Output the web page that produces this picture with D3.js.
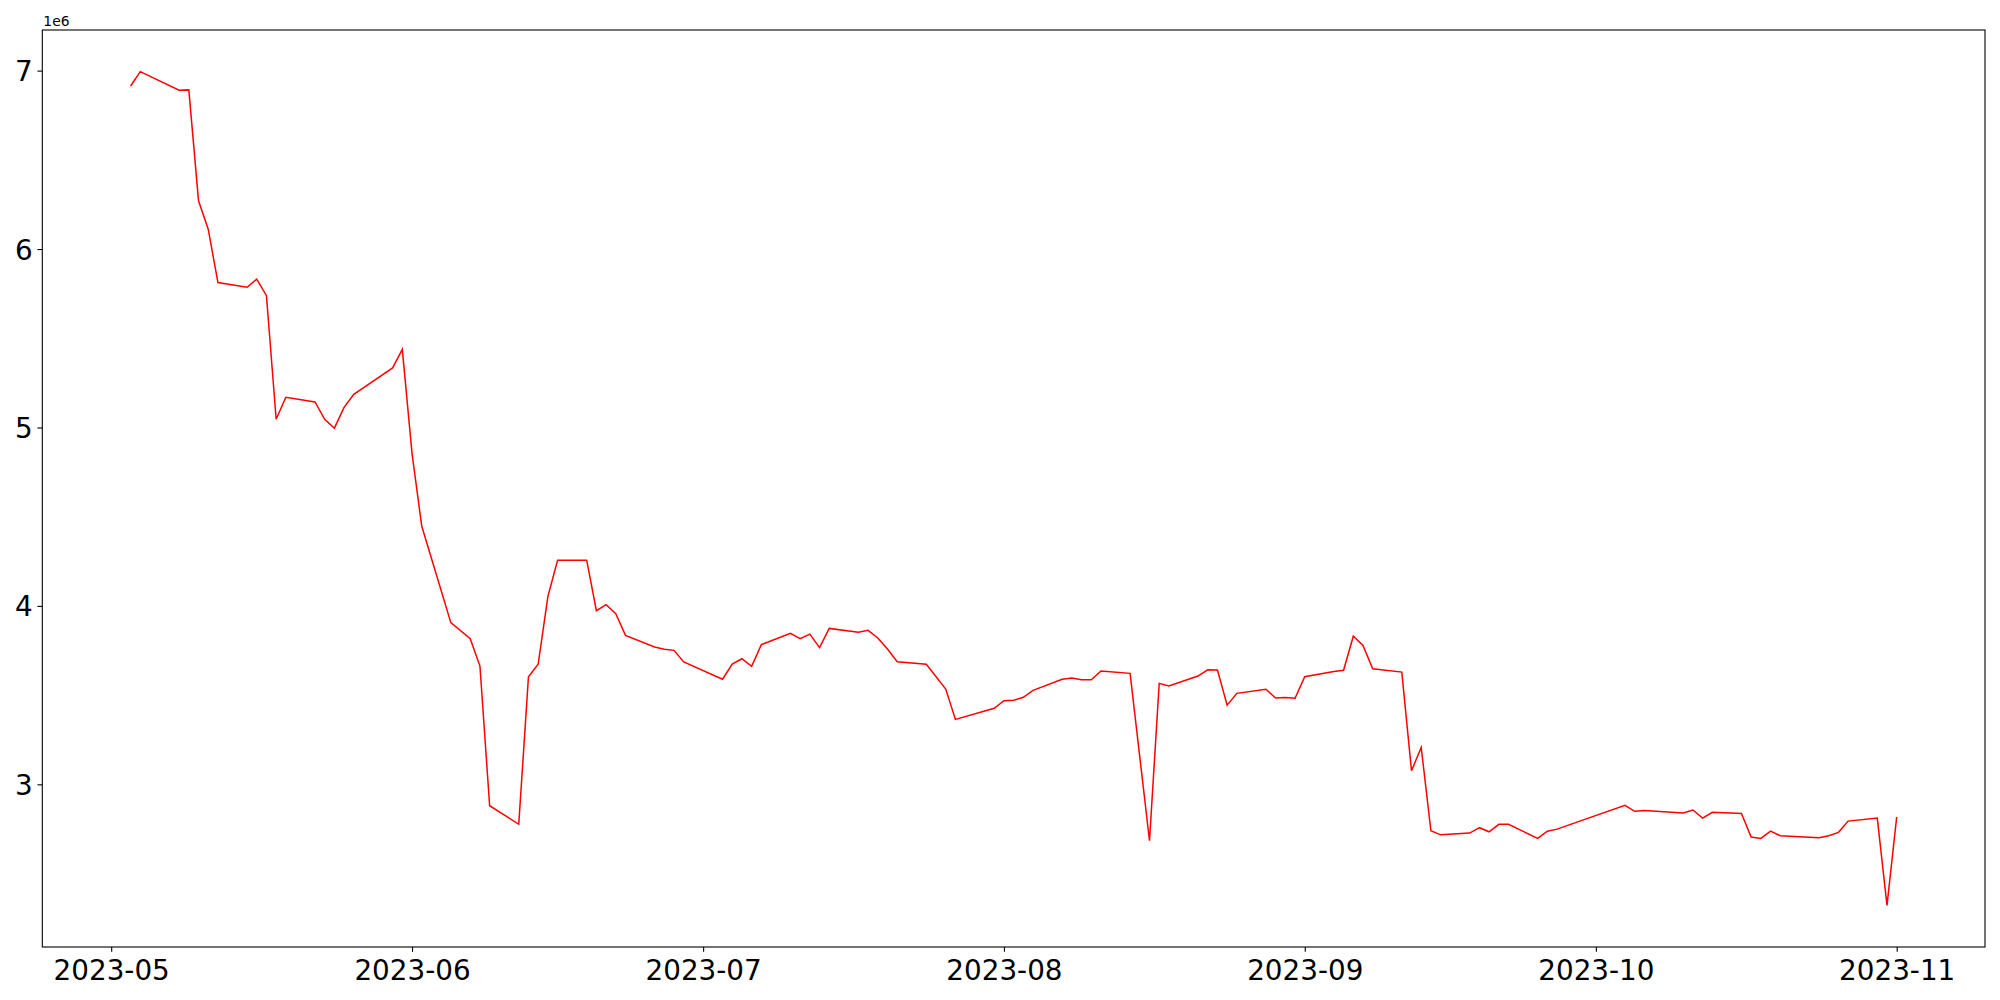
<!DOCTYPE html>
<html>
<head>
<meta charset="utf-8">
<script src="https://cdn.jsdelivr.net/npm/d3@7"></script>
<style>
  html, body { margin: 0; padding: 0; background: #fff; }
  svg { display: block; font-family: "DejaVu Sans", sans-serif; }
</style>
</head>
<body>
<svg id="chart" width="2000" height="1000"></svg>
<script>
// ---- data ----
const dates = [
  "2023-05-03","2023-05-04","2023-05-08","2023-05-09","2023-05-10","2023-05-11","2023-05-12",
  "2023-05-15","2023-05-16","2023-05-17","2023-05-18","2023-05-19",
  "2023-05-22","2023-05-23","2023-05-24","2023-05-25","2023-05-26",
  "2023-05-30","2023-05-31","2023-06-01","2023-06-02",
  "2023-06-05","2023-06-07","2023-06-08","2023-06-09",
  "2023-06-12","2023-06-13","2023-06-14","2023-06-15","2023-06-16",
  "2023-06-19","2023-06-20","2023-06-21","2023-06-22","2023-06-23",
  "2023-06-26","2023-06-27","2023-06-28","2023-06-29",
  "2023-07-03","2023-07-04","2023-07-05","2023-07-06","2023-07-07",
  "2023-07-10","2023-07-11","2023-07-12","2023-07-13","2023-07-14",
  "2023-07-17","2023-07-18","2023-07-19","2023-07-20","2023-07-21",
  "2023-07-24","2023-07-26","2023-07-27",
  "2023-07-31","2023-08-01","2023-08-02","2023-08-03","2023-08-04",
  "2023-08-07","2023-08-08","2023-08-09","2023-08-10","2023-08-11",
  "2023-08-14","2023-08-16","2023-08-17","2023-08-18",
  "2023-08-21","2023-08-22","2023-08-23","2023-08-24","2023-08-25",
  "2023-08-28","2023-08-29","2023-08-30","2023-08-31","2023-09-01",
  "2023-09-04","2023-09-05","2023-09-06","2023-09-07","2023-09-08",
  "2023-09-11","2023-09-12","2023-09-13","2023-09-14","2023-09-15",
  "2023-09-18","2023-09-19","2023-09-20","2023-09-21","2023-09-22",
  "2023-09-25","2023-09-26","2023-09-27",
  "2023-10-04","2023-10-05","2023-10-06",
  "2023-10-10","2023-10-11","2023-10-12","2023-10-13",
  "2023-10-16","2023-10-17","2023-10-18","2023-10-19","2023-10-20",
  "2023-10-24","2023-10-25","2023-10-26","2023-10-27",
  "2023-10-30","2023-10-31","2023-11-01"
];
const values = [
  6914000,6994000,6890000,6892000,6270000,6111000,5812000,
  5786000,5831000,5739000,5046000,5169000,
  5143000,5046000,4996000,5113000,5186000,
  5334000,5438000,4855000,4448000,
  3906000,3816000,3663000,2880000,
  2776000,3603000,3673000,4052000,4256000,
  4256000,3973000,4007000,3956000,3835000,
  3770000,3757000,3751000,3686000,
  3589000,3674000,3704000,3661000,3783000,
  3846000,3816000,3842000,3766000,3874000,
  3852000,3863000,3820000,3758000,3687000,
  3673000,3534000,3364000,
  3426000,3469000,3471000,3488000,3527000,
  3589000,3596000,3586000,3586000,3635000,
  3622000,2684000,3566000,3551000,
  3607000,3642000,3641000,3444000,3510000,
  3533000,3484000,3486000,3482000,3603000,
  3633000,3639000,3830000,3779000,3648000,
  3629000,3076000,3207000,2740000,2717000,
  2727000,2757000,2734000,2776000,2776000,
  2697000,2737000,2749000,
  2882000,2849000,2854000,
  2839000,2856000,2811000,2843000,
  2837000,2705000,2697000,2738000,2712000,
  2701000,2712000,2731000,2794000,
  2811000,2322000,2817000
];
const yTickValues = [3000000, 4000000, 5000000, 6000000, 7000000];
const yOffsetLabel = "1e6";
const xTickFormat = "%Y-%m";

// ---- layout ----
const W = 2000, H = 1000;
const plot = { left: 42.3, right: 1985, top: 30, bottom: 947 };
const tickLen = 4.86, tickPad = 4.86;

const parse = d3.utcParse("%Y-%m-%d");
const data = dates.map((d, i) => ({ date: parse(d), value: values[i] }));

// matplotlib-like 5% margins
const xExt = d3.extent(data, d => d.date);
const xSpan = xExt[1] - xExt[0];
const x = d3.scaleUtc()
  .domain([new Date(+xExt[0] - 0.05 * xSpan), new Date(+xExt[1] + 0.05 * xSpan)])
  .range([plot.left, plot.right]);

const yExt = d3.extent(data, d => d.value);
const ySpan = yExt[1] - yExt[0];
const y = d3.scaleLinear()
  .domain([yExt[0] - 0.05 * ySpan, yExt[1] + 0.05 * ySpan])
  .range([plot.bottom, plot.top]);

const svg = d3.select("#chart");
svg.append("rect").attr("width", W).attr("height", H).attr("fill", "#fff");

// line
const line = d3.line().x(d => x(d.date)).y(d => y(d.value));
svg.append("path")
  .datum(data)
  .attr("d", line)
  .attr("fill", "none")
  .attr("stroke", "#ff0000")
  .attr("stroke-width", 1.5)
  .attr("stroke-linejoin", "miter")
  .attr("stroke-linecap", "butt");

// x axis
const xAxis = d3.axisBottom(x)
  .ticks(d3.utcMonth.every(1))
  .tickFormat(d3.utcFormat(xTickFormat))
  .tickSize(tickLen).tickPadding(tickPad);
const gx = svg.append("g").attr("transform", `translate(0,${plot.bottom})`).call(xAxis);
gx.select(".domain").remove();
gx.selectAll(".tick line").attr("stroke", "#000").attr("stroke-width", 1.1);
gx.selectAll(".tick text")
  .attr("fill", "#000")
  .attr("font-family", "DejaVu Sans")
  .attr("font-size", 27.8)
  .attr("dy", "0.83em");

// y axis
const yAxis = d3.axisLeft(y)
  .tickValues(yTickValues)
  .tickFormat(d => String(d / 1e6))
  .tickSize(tickLen).tickPadding(tickPad);
const gy = svg.append("g").attr("transform", `translate(${plot.left},0)`).call(yAxis);
gy.select(".domain").remove();
gy.selectAll(".tick line").attr("stroke", "#000").attr("stroke-width", 1.1);
gy.selectAll(".tick text")
  .attr("fill", "#000")
  .attr("font-family", "DejaVu Sans")
  .attr("font-size", 27.8)
  .attr("dy", "0.36em");

// offset label
svg.append("text")
  .attr("x", plot.left + 1)
  .attr("y", 26)
  .attr("font-family", "DejaVu Sans")
  .attr("font-size", 13.9)
  .attr("fill", "#000")
  .text(yOffsetLabel);

// frame
svg.append("rect")
  .attr("x", plot.left).attr("y", plot.top)
  .attr("width", plot.right - plot.left)
  .attr("height", plot.bottom - plot.top)
  .attr("fill", "none")
  .attr("stroke", "#000")
  .attr("stroke-width", 1.1);
</script>
</body>
</html>
